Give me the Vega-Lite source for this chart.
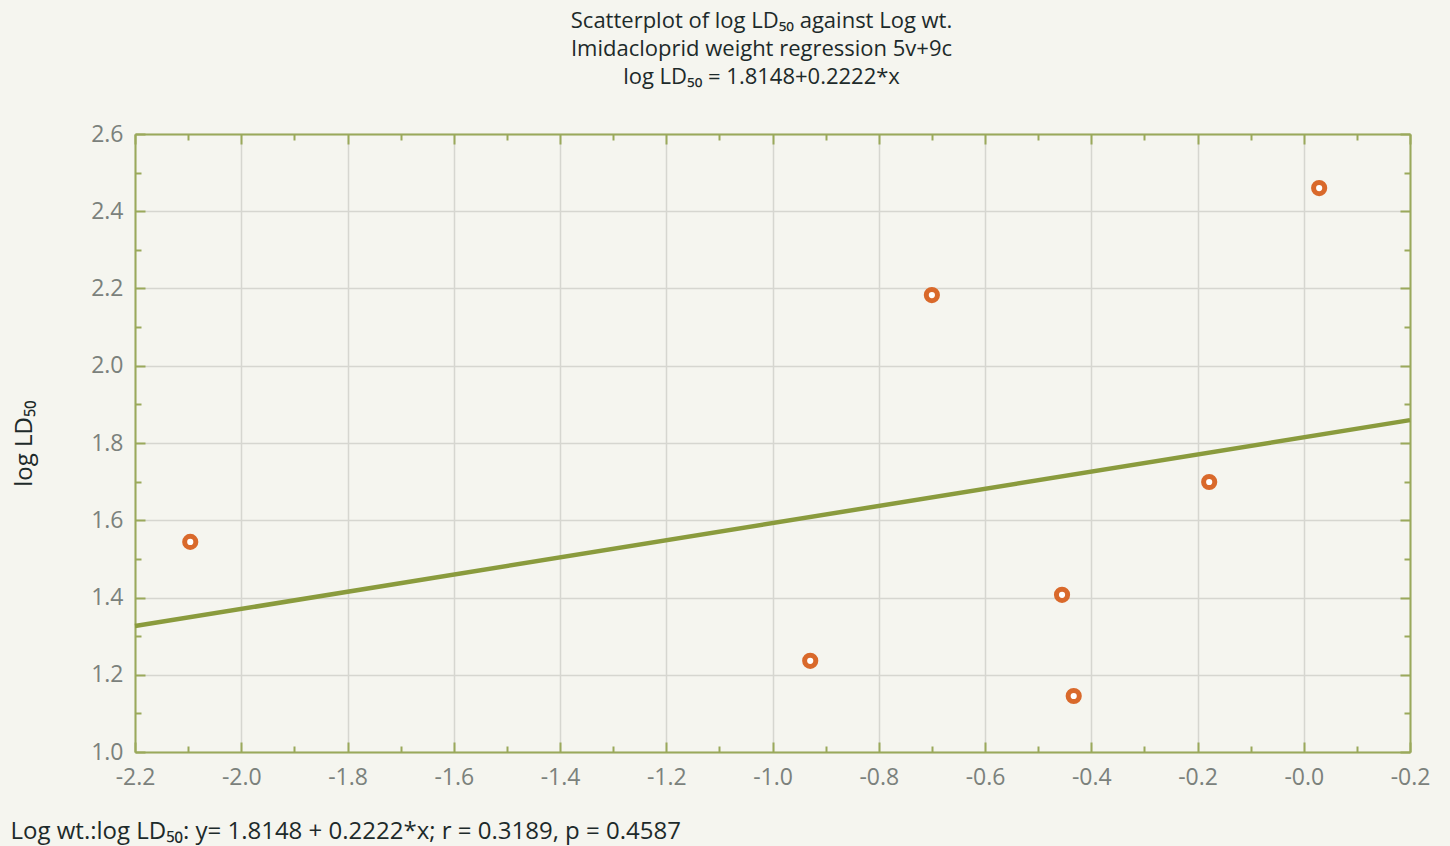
{
  "$schema": "https://vega.github.io/schema/vega-lite/v6.json",
  "width": 1275,
  "height": 618,
  "autosize": {"type": "none"},
  "padding": {"left": 135, "top": 134, "right": 40, "bottom": 94},
  "background": "#f5f5ef",
  "config": {"view": {"stroke": null}, "font": "Open Sans"},
  "title": {
    "text": ["Scatterplot of log LD₅₀ against Log wt.", "Imidacloprid weight regression 5v+9c", "log LD₅₀ = 1.8148+0.2222*x"],
    "fontSize": 22,
    "fontWeight": "normal",
    "color": "#1d2a2a",
    "lineHeight": 28,
    "anchor": "middle",
    "frame": "group",
    "offset": 34,
    "dx": -11
  },
  "datasets": {
    "points": [
      {"logwt": -2.096, "logld50": 1.544},
      {"logwt": -0.929, "logld50": 1.236},
      {"logwt": -0.700, "logld50": 2.183},
      {"logwt": -0.455, "logld50": 1.407},
      {"logwt": -0.433, "logld50": 1.145},
      {"logwt": -0.178, "logld50": 1.699},
      {"logwt": 0.029, "logld50": 2.460}
    ],
    "fit": [
      {"logwt": -2.2, "logld50": 1.3260},
      {"logwt": 0.2, "logld50": 1.8592}
    ]
  },
  "layer": [
    {
      "data": {"name": "fit"},
      "mark": {"type": "line", "color": "#8a9b3d", "strokeWidth": 4.5},
      "encoding": {
        "x": {
          "field": "logwt", "type": "quantitative",
          "scale": {"domain": [-2.2, 0.2], "nice": false, "zero": false},
          "axis": {
            "orient": "top",
            "values": [-2.2, -2.1, -2.0, -1.9, -1.8, -1.7, -1.6, -1.5, -1.4, -1.3, -1.2, -1.1, -1.0, -0.9, -0.8, -0.7, -0.6, -0.5, -0.4, -0.3, -0.2, -0.1, 0, 0.1, 0.2],
            "labels": false,
            "grid": false,
            "title": null,
            "domainColor": "#9aa95b", "domainWidth": 2,
            "tickColor": "#9aa95b", "tickWidth": 2,
            "tickSize": {"condition": {"test": "round(datum.value*10)%2!=0", "value": -6}, "value": -10}
          }
        },
        "y": {
          "field": "logld50", "type": "quantitative",
          "scale": {"domain": [1.0, 2.6], "nice": false, "zero": false},
          "axis": {
            "orient": "right",
            "values": [1.0, 1.1, 1.2, 1.3, 1.4, 1.5, 1.6, 1.7, 1.8, 1.9, 2.0, 2.1, 2.2, 2.3, 2.4, 2.5, 2.6],
            "labels": false,
            "grid": false,
            "title": null,
            "domainColor": "#9aa95b", "domainWidth": 2,
            "tickColor": "#9aa95b", "tickWidth": 2,
            "tickSize": {"condition": {"test": "round(datum.value*10)%2!=0", "value": -6}, "value": -10}
          }
        }
      }
    },
    {
      "data": {"name": "points"},
      "mark": {"type": "point", "shape": "circle", "filled": false, "fill": "#ffffff", "fillOpacity": 1, "stroke": "#d9692b", "strokeWidth": 5, "size": 125, "opacity": 1},
      "encoding": {
        "x": {
          "field": "logwt", "type": "quantitative",
          "scale": {"domain": [-2.2, 0.2], "nice": false, "zero": false},
          "axis": {
            "orient": "bottom",
            "values": [-2.2, -2.1, -2.0, -1.9, -1.8, -1.7, -1.6, -1.5, -1.4, -1.3, -1.2, -1.1, -1.0, -0.9, -0.8, -0.7, -0.6, -0.5, -0.4, -0.3, -0.2, -0.1, 0, 0.1, 0.2],
            "labelExpr": "round(datum.value*10)%2!=0 ? '' : '-' + format(abs(datum.value), '.1f')",
            "labelFlush": false,
            "labelOverlap": false,
            "labelFont": "Open Sans",
            "labelFontSize": 23,
            "labelColor": "#7b817c",
            "labelPadding": 24,
            "grid": true,
            "gridColor": "#d6d6d0",
            "gridWidth": 1.5,
            "gridOpacity": {"condition": {"test": "round(datum.value*10)%2!=0", "value": 0}, "value": 1},
            "domainColor": "#9aa95b", "domainWidth": 2,
            "tickColor": "#9aa95b", "tickWidth": 2,
            "tickSize": {"condition": {"test": "round(datum.value*10)%2!=0", "value": -6}, "value": -10},
            "title": "Log wt.:log LD₅₀: y= 1.8148 + 0.2222*x; r = 0.3189, p = 0.4587",
            "titleFont": "Open Sans",
            "titleFontSize": 24,
            "titleFontWeight": "normal",
            "titleColor": "#1d2a2a",
            "titleAnchor": "start",
            "titleAlign": "left",
            "titleBaseline": "alphabetic",
            "titleX": -125,
            "titleY": 86
          }
        },
        "y": {
          "field": "logld50", "type": "quantitative",
          "scale": {"domain": [1.0, 2.6], "nice": false, "zero": false},
          "axis": {
            "orient": "left",
            "values": [1.0, 1.1, 1.2, 1.3, 1.4, 1.5, 1.6, 1.7, 1.8, 1.9, 2.0, 2.1, 2.2, 2.3, 2.4, 2.5, 2.6],
            "labelExpr": "round(datum.value*10)%2!=0 ? '' : format(datum.value, '.1f')",
            "labelFlush": false,
            "labelOverlap": false,
            "labelFont": "Open Sans",
            "labelFontSize": 23,
            "labelColor": "#7b817c",
            "labelPadding": 22,
            "grid": true,
            "gridColor": "#d6d6d0",
            "gridWidth": 1.5,
            "gridOpacity": {"condition": {"test": "round(datum.value*10)%2!=0", "value": 0}, "value": 1},
            "domainColor": "#9aa95b", "domainWidth": 2,
            "tickColor": "#9aa95b", "tickWidth": 2,
            "tickSize": {"condition": {"test": "round(datum.value*10)%2!=0", "value": -6}, "value": -10},
            "title": "log LD₅₀",
            "titleFont": "Open Sans",
            "titleFontSize": 24,
            "titleFontWeight": "normal",
            "titleColor": "#1d2a2a",
            "titlePadding": 54
          }
        }
      }
    }
  ],
  "resolve": {"axis": {"x": "independent", "y": "independent"}}
}
